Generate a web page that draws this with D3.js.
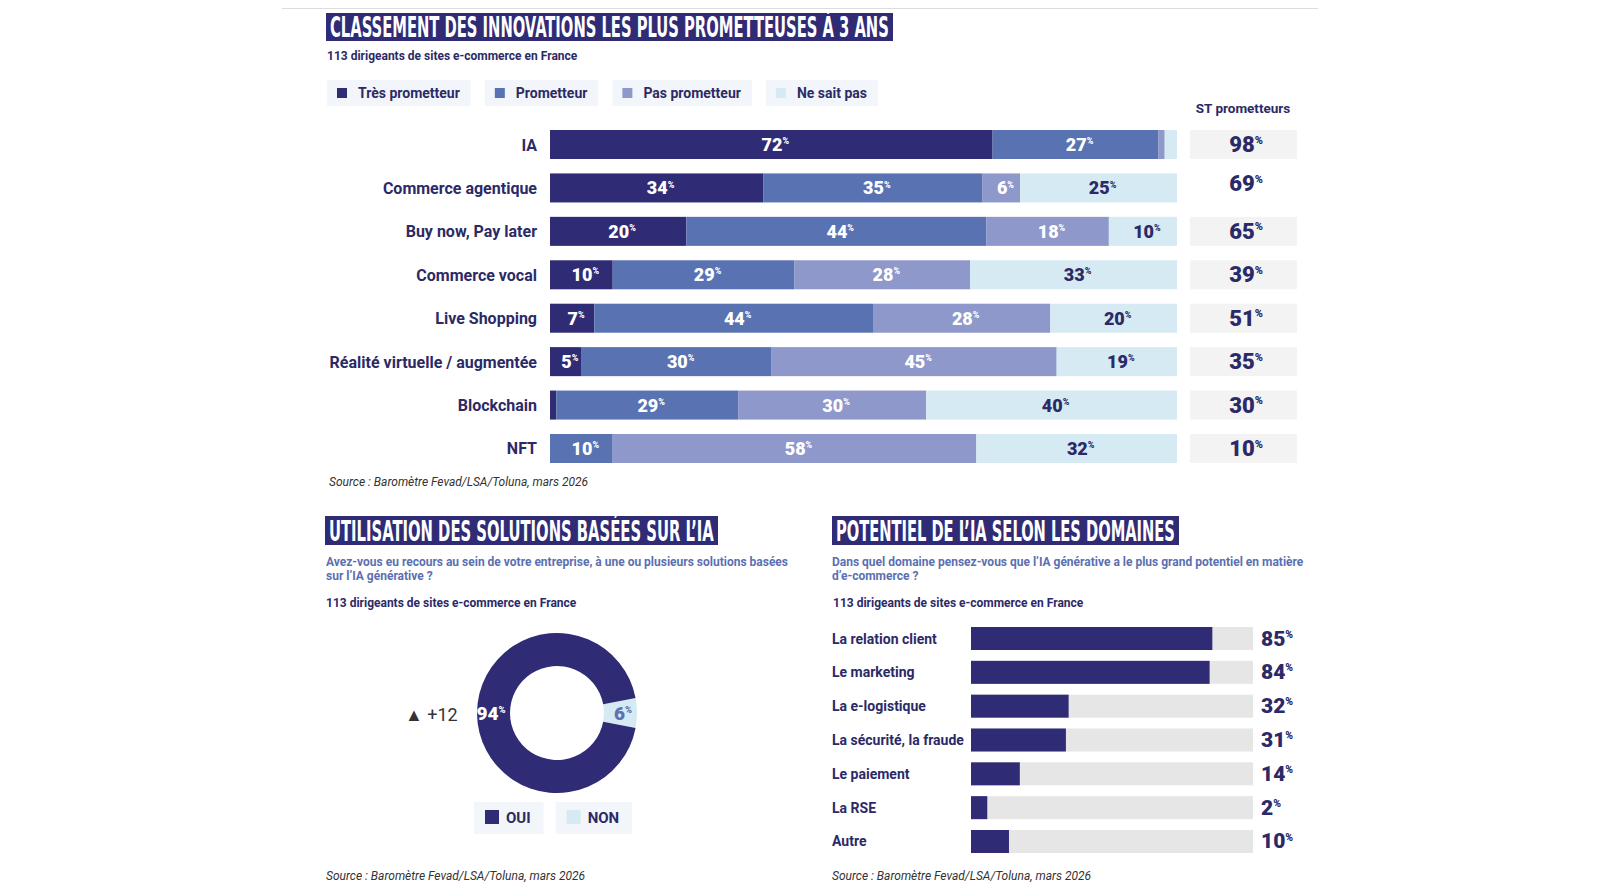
<!DOCTYPE html>
<html>
<head>
<meta charset="utf-8">
<script src="https://cdn.jsdelivr.net/npm/d3@7"></script>
<style>
  body { margin: 0; background: #fff; }
  svg { display: block; font-family: Roboto, "Noto Sans", sans-serif; }
</style>
</head>
<body>
<svg id="chart" width="1600" height="896"></svg>
<script>
'use strict';

// --- top chart : innovations ---
const innovations = ["IA", "Commerce agentique", "Buy now, Pay later", "Commerce vocal",
  "Live Shopping", "Réalité virtuelle / augmentée", "Blockchain", "NFT"];
const seriesNames = ["Très prometteur", "Prometteur", "Pas prometteur", "Ne sait pas"];
const tresPrometteur = [72, 34, 20, 10, 7, 5, 1, 0];
const prometteur = [27, 35, 44, 29, 44, 30, 29, 10];
const pasPrometteur = [1, 6, 18, 28, 28, 45, 30, 58];
const neSaitPas = [2, 25, 10, 33, 20, 19, 40, 32];
const stPrometteurs = [98, 69, 65, 39, 51, 35, 30, 10];

// --- bottom left : usage ---
const usageLabels = ["OUI", "NON"];
const usageValues = [94, 6];
const usageDelta = "+12";

// --- bottom right : domains ---
const domainLabels = ["La relation client", "Le marketing", "La e-logistique",
  "La sécurité, la fraude", "Le paiement", "La RSE", "Autre"];
const domainValues = [85, 84, 32, 31, 14, 2, 10];

const sourceText = "Source : Baromètre Fevad/LSA/Toluna, mars 2026";
const panelText = "113 dirigeants de sites e-commerce en France";

const navy = "#2f2b74",
  textNavy = "#2c2a66",
  colors = ["#2f2b74", "#5872b2", "#8e98ca", "#d5eaf3"],
  qBlue = "#5b6fb1";

let svg = d3.select("#chart");

// thin rule on top
svg.append("line")
  .attr("x1", 282).attr("x2", 1318).attr("y1", 8.5).attr("y2", 8.5)
  .attr("stroke", "#dcdcdc").attr("stroke-width", 1);

// condensed white title on a navy band, squeezed horizontally to fit the band
function drawTitle(x, y, w, h, txt) {
  svg.append("rect").attr("x", x).attr("y", y).attr("width", w).attr("height", h).attr("fill", navy);
  let t = svg.append("text")
    .attr("font-family", "'DejaVu Sans Condensed', 'Liberation Sans Narrow', sans-serif")
    .attr("font-weight", "bold").attr("font-size", 28)
    .attr("fill", "#fff").text(txt);
  let natural = t.node().getComputedTextLength();
  t.attr("transform", "translate(" + (x + 4) + "," + (y + h / 2 + 10) + ") scale(" + ((w - 8) / natural) + ",1)");
}

// number + small raised "%"
function pct(sel, v, size) {
  sel.append("tspan").text(v);
  sel.append("tspan").attr("font-size", size * 0.5).attr("dy", -size * 0.38).text("%");
}

function smallText(x, y, txt, color, opts) {
  opts = opts || {};
  return svg.append("text").attr("x", x).attr("y", y)
    .attr("font-size", opts.size || 12)
    .attr("font-weight", opts.weight || "bold")
    .attr("font-style", opts.style || "normal")
    .attr("fill", color).text(txt);
}

// ================= TOP CHART =================
drawTitle(326, 13, 567, 28, "CLASSEMENT DES INNOVATIONS LES PLUS PROMETTEUSES À 3 ANS");
smallText(327, 60, panelText, textNavy, { size: 12 });

// legend
let lx = 327;
seriesNames.forEach(function (name, i) {
  let g = svg.append("g");
  let bg = g.append("rect").attr("y", 80).attr("height", 26).attr("fill", "#f2f6fa");
  g.append("rect").attr("x", lx + 10).attr("y", 88).attr("width", 10).attr("height", 10).attr("fill", colors[i]);
  let t = g.append("text").attr("x", lx + 31).attr("y", 98)
    .attr("font-size", 14).attr("font-weight", "bold").attr("fill", textNavy).text(name);
  let w = 31 + t.node().getComputedTextLength() + 11;
  bg.attr("x", lx).attr("width", w);
  lx += w + 14;
});

let rows = innovations.map(function (name, i) {
  return { name: name, v0: tresPrometteur[i], v1: prometteur[i], v2: pasPrometteur[i], v3: neSaitPas[i], st: stPrometteurs[i] };
});
let keys = ["v0", "v1", "v2", "v3"];
let stack = d3.stack().keys(keys).offset(d3.stackOffsetExpand)(rows);

let x = d3.scaleLinear().domain([0, 1]).range([550, 1177]);
let y = d3.scaleBand().domain(innovations).range([130, 463]).paddingInner(0.332);

let layers = svg.append("g").selectAll("g")
  .data(stack).enter().append("g")
  .attr("fill", function (d, i) { return colors[i]; });

layers.selectAll("rect")
  .data(function (d) { return d; })
  .enter().append("rect")
  .attr("x", function (d) { return x(d[0]); })
  .attr("y", function (d) { return y(d.data.name); })
  .attr("width", function (d) { return x(d[1]) - x(d[0]); })
  .attr("height", y.bandwidth());

stack.forEach(function (layer, li) {
  layer.forEach(function (d) {
    let v = d.data[layer.key];
    if (v < 5) return;
    let t = svg.append("text")
      .attr("x", (x(d[0]) + x(d[1])) / 2 + 4)
      .attr("y", y(d.data.name) + y.bandwidth() / 2 + 6.5)
      .attr("text-anchor", "middle")
      .attr("font-size", 18).attr("font-weight", 900)
      .attr("fill", li === 3 ? textNavy : "#fff");
    pct(t, v, 18);
  });
});

// category labels
svg.append("g").selectAll("text")
  .data(innovations).enter().append("text")
  .attr("x", 537)
  .attr("y", function (d) { return y(d) + y.bandwidth() / 2 + 6; })
  .attr("text-anchor", "end")
  .attr("font-size", 16).attr("font-weight", "bold").attr("fill", textNavy)
  .text(function (d) { return d; });

// ST prometteurs column
svg.append("text").attr("x", 1243).attr("y", 113).attr("text-anchor", "middle")
  .attr("font-size", 13.5).attr("font-weight", "bold").attr("fill", textNavy).text("ST prometteurs");

// the original has no grey box behind "Commerce agentique"
svg.append("g").selectAll("rect")
  .data(rows.filter(function (d, i) { return i !== 1; })).enter().append("rect")
  .attr("x", 1190).attr("width", 107)
  .attr("y", function (d) { return y(d.name); })
  .attr("height", y.bandwidth())
  .attr("fill", "#f3f3f3");

rows.forEach(function (d, i) {
  let t = svg.append("text")
    .attr("x", 1246)
    .attr("y", y(d.name) + y.bandwidth() / 2 + 7.5 - (i === 1 ? 4 : 0))
    .attr("text-anchor", "middle")
    .attr("font-size", 22).attr("font-weight", 900).attr("fill", textNavy);
  pct(t, d.st, 22);
});

smallText(329, 486, sourceText, "#333", { weight: "normal", style: "italic", size: 12 });

// ================= BOTTOM LEFT : DONUT =================
drawTitle(325, 516, 393, 29, "UTILISATION DES SOLUTIONS BASÉES SUR L’IA");
smallText(326, 566, "Avez-vous eu recours au sein de votre entreprise, à une ou plusieurs solutions basées", qBlue, { size: 12 });
smallText(326, 580, "sur l’IA générative ?", qBlue, { size: 12 });
smallText(326, 607, panelText, textNavy, { size: 12 });

let cx = 557, cy = 713;
let pieData = usageLabels.map(function (l, i) { return { name: l, value: usageValues[i] }; }).reverse();
let half = Math.PI * usageValues[1] / 100; // center the small slice at 3 o'clock
let pie = d3.pie().value(function (d) { return d.value; }).sort(null)
  .startAngle(Math.PI / 2 - half).endAngle(Math.PI / 2 - half + 2 * Math.PI);
let arc = d3.arc().innerRadius(47).outerRadius(80);
let donutColors = { "OUI": navy, "NON": "#d5eaf3" };

let dg = svg.append("g").attr("transform", "translate(" + cx + "," + cy + ")");
dg.selectAll("path").data(pie(pieData)).enter().append("path")
  .attr("d", arc)
  .attr("fill", function (d) { return donutColors[d.data.name]; });

// labels on the ring
let t94 = dg.append("text").attr("x", -66).attr("y", 7).attr("text-anchor", "middle")
  .attr("font-size", 19).attr("font-weight", 900).attr("fill", "#fff");
pct(t94, usageValues[0], 19);
let t6 = dg.append("text").attr("x", 66).attr("y", 7).attr("text-anchor", "middle")
  .attr("font-size", 19).attr("font-weight", 900).attr("fill", "#5872b2");
pct(t6, usageValues[1], 19);

svg.append("text").attr("x", 405).attr("y", 721)
  .attr("font-size", 18).attr("fill", "#333").text("▲ " + usageDelta);

// donut legend
let ux = 474;
usageLabels.forEach(function (l, i) {
  let bg = svg.append("rect").attr("y", 802).attr("height", 32).attr("fill", "#f2f6fa");
  svg.append("rect").attr("x", ux + 11).attr("y", 810).attr("width", 14).attr("height", 14)
    .attr("fill", donutColors[l]);
  let t = svg.append("text").attr("x", ux + 32).attr("y", 823)
    .attr("font-size", 15).attr("font-weight", "bold").attr("fill", textNavy).text(l);
  let w = 32 + t.node().getComputedTextLength() + 13;
  bg.attr("x", ux).attr("width", w);
  ux += w + 12;
});

smallText(326, 880, sourceText, "#333", { weight: "normal", style: "italic", size: 12 });

// ================= BOTTOM RIGHT : DOMAINS =================
drawTitle(832, 516, 347, 29, "POTENTIEL DE L’IA SELON LES DOMAINES");
smallText(832, 566, "Dans quel domaine pensez-vous que l’IA générative a le plus grand potentiel en matière", qBlue, { size: 12 });
smallText(832, 580, "d’e-commerce ?", qBlue, { size: 12 });
smallText(833, 607, panelText, textNavy, { size: 12 });

let dx = d3.scaleLinear().domain([-4, 100]).range([971, 1253]);
let dy = d3.scaleBand().domain(domainLabels).range([627, 853]).paddingInner(0.32);

svg.append("g").selectAll("rect")
  .data(domainLabels).enter().append("rect")
  .attr("x", dx(-4)).attr("width", dx(100) - dx(-4))
  .attr("y", function (d) { return dy(d); }).attr("height", dy.bandwidth())
  .attr("fill", "#e6e6e6");

svg.append("g").selectAll("rect")
  .data(domainValues).enter().append("rect")
  .attr("x", dx(-4))
  .attr("width", function (d) { return dx(d) - dx(-4); })
  .attr("y", function (d, i) { return dy(domainLabels[i]); }).attr("height", dy.bandwidth())
  .attr("fill", navy);

svg.append("g").selectAll("text")
  .data(domainLabels).enter().append("text")
  .attr("x", 832)
  .attr("y", function (d) { return dy(d) + dy.bandwidth() / 2 + 5; })
  .attr("font-size", 14).attr("font-weight", "bold").attr("fill", textNavy)
  .text(function (d) { return d; });

domainValues.forEach(function (v, i) {
  let t = svg.append("text")
    .attr("x", 1261)
    .attr("y", dy(domainLabels[i]) + dy.bandwidth() / 2 + 7)
    .attr("font-size", 21).attr("font-weight", 900).attr("fill", textNavy);
  pct(t, v, 21);
});

smallText(832, 880, sourceText, "#333", { weight: "normal", style: "italic", size: 12 });
</script>
</body>
</html>
